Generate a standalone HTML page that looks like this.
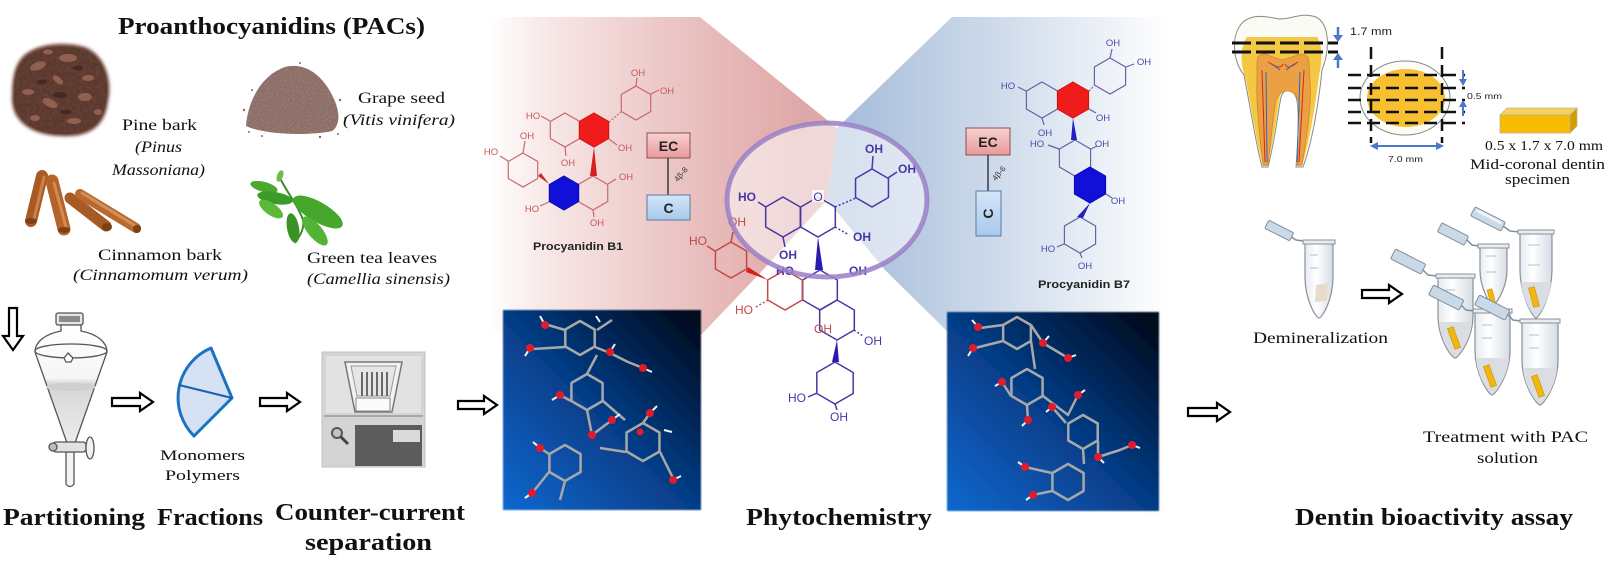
<!DOCTYPE html>
<html><head><meta charset="utf-8"><style>
html,body{margin:0;padding:0;background:#fff;}
svg{display:block;}
.s{font-family:"Liberation Serif",serif;fill:#111;}
.b{font-weight:bold;}
.i{font-style:italic;}
.a{font-family:"Liberation Sans",sans-serif;}
.m1{font-family:"Liberation Sans",sans-serif;font-size:9.5px;fill:#c45a5a;}
.m7{font-family:"Liberation Sans",sans-serif;font-size:9.5px;fill:#4a4aa6;}
.mc{font-family:"Liberation Sans",sans-serif;font-size:12px;fill:#4a35a8;}
.mr{font-family:"Liberation Sans",sans-serif;font-size:12px;fill:#c44848;}
</style></head><body>
<svg width="1612" height="575" viewBox="0 0 1612 575" xmlns="http://www.w3.org/2000/svg">
<defs>
 <polygon id="hx" points="0,-1 .866,-.5 .866,.5 0,1 -.866,.5 -.866,-.5" vector-effect="non-scaling-stroke"/>
 <linearGradient id="pinkG" gradientUnits="userSpaceOnUse" x1="488" y1="0" x2="800" y2="0">
  <stop offset="0" stop-color="#ffffff"/>
  <stop offset=".18" stop-color="#f8e8e8"/>
  <stop offset=".7" stop-color="#e8bcbc"/>
  <stop offset="1" stop-color="#e0a9a9"/>
 </linearGradient>
 <linearGradient id="blueG" gradientUnits="userSpaceOnUse" x1="850" y1="0" x2="1170" y2="0">
  <stop offset="0" stop-color="#a8bedb"/>
  <stop offset=".5" stop-color="#d2ddec"/>
  <stop offset="1" stop-color="#ffffff"/>
 </linearGradient>
 <linearGradient id="boxG" x1="0" y1="1" x2="1" y2="0">
  <stop offset="0" stop-color="#0a68d0"/>
  <stop offset=".5" stop-color="#063c86"/>
  <stop offset="1" stop-color="#010614"/>
 </linearGradient>
 <linearGradient id="ecG" x1="0" y1="0" x2="0" y2="1">
  <stop offset="0" stop-color="#f8d0d0"/><stop offset="1" stop-color="#e99a9a"/>
 </linearGradient>
 <linearGradient id="cG" x1="0" y1="0" x2="0" y2="1">
  <stop offset="0" stop-color="#d4e6f8"/><stop offset="1" stop-color="#a8c8ec"/>
 </linearGradient>
 <linearGradient id="tubeG" x1="0" y1="0" x2="1" y2="0">
  <stop offset="0" stop-color="#e6ebf0"/><stop offset=".4" stop-color="#ffffff"/><stop offset="1" stop-color="#d6dce3"/>
 </linearGradient>
 <linearGradient id="funG" x1="0" y1="0" x2="0" y2="1">
  <stop offset="0" stop-color="#ffffff"/><stop offset=".45" stop-color="#f6f6f6"/><stop offset=".5" stop-color="#d6d6d6"/><stop offset="1" stop-color="#ececec"/>
 </linearGradient>
 <filter id="nz" x="0" y="0" width="100%" height="100%">
  <feTurbulence type="fractalNoise" baseFrequency="0.3" numOctaves="2" seed="7" result="t"/>
  <feColorMatrix in="t" type="matrix" values="0 0 0 0 0.12  0 0 0 0 0.06  0 0 0 0 0.04  0 0 0 -2.4 1.45"/>
  <feComposite in2="SourceGraphic" operator="in"/>
 </filter>
 <filter id="nz2" x="0" y="0" width="100%" height="100%">
  <feTurbulence type="fractalNoise" baseFrequency="0.6" numOctaves="1" seed="3" result="t"/>
  <feColorMatrix in="t" type="matrix" values="0 0 0 0 0.3  0 0 0 0 0.22  0 0 0 0 0.2  0 0 0 -3 1.7"/>
  <feComposite in2="SourceGraphic" operator="in"/>
 </filter>
 <filter id="soft"><feGaussianBlur stdDeviation="0.8"/></filter>
 <filter id="fz"><feGaussianBlur stdDeviation="1.5"/></filter>
</defs>

<!-- ===== background zoom regions ===== -->
<polygon points="488,17 700,17 837,128 827,200 760,273 702,334 488,334" fill="url(#pinkG)"/>
<polygon points="837,128 952,17 1170,17 1170,334 950,334 885,270 827,200" fill="url(#blueG)"/>

<!-- ===== LEFT: sources ===== -->
<text class="s b" x="118" y="34" font-size="24" textLength="307" lengthAdjust="spacingAndGlyphs">Proanthocyanidins (PACs)</text>

<!-- pine bark -->
<path d="M20,60 C30,45 60,40 85,47 C105,55 113,80 108,102 C105,126 90,138 60,136 C30,135 10,120 12,95 C12,80 14,68 20,60 Z" fill="#6a4034" filter="url(#fz)"/>
<path d="M22,62 C32,48 60,43 84,50 C103,57 110,80 106,101 C103,124 89,135 60,134 C32,133 13,119 14,95 C14,81 16,70 22,62 Z" fill="#5e382e"/>
<path d="M22,62 C32,48 60,43 84,50 C103,57 110,80 106,101 C103,124 89,135 60,134 C32,133 13,119 14,95 C14,81 16,70 22,62 Z" fill="#5e382e" filter="url(#nz)"/>
<g fill="#9e6a58" opacity=".8">
 <ellipse cx="38" cy="66" rx="8" ry="4" transform="rotate(-20 38 66)"/><ellipse cx="68" cy="58" rx="9" ry="4"/><ellipse cx="88" cy="78" rx="6" ry="3"/>
 <ellipse cx="85" cy="97" rx="7" ry="4"/><ellipse cx="50" cy="103" rx="8" ry="4" transform="rotate(25 50 103)"/><ellipse cx="28" cy="92" rx="6" ry="3"/>
 <ellipse cx="74" cy="121" rx="7" ry="3"/><ellipse cx="58" cy="80" rx="6" ry="3" transform="rotate(40 58 80)"/><ellipse cx="35" cy="118" rx="5" ry="3"/>
 <ellipse cx="98" cy="112" rx="4" ry="3"/><ellipse cx="48" cy="52" rx="5" ry="2.5"/>
</g>
<g fill="#3a221c" opacity=".7"><ellipse cx="60" cy="95" rx="7" ry="3"/><ellipse cx="42" cy="82" rx="5" ry="2.5"/><ellipse cx="78" cy="68" rx="5" ry="2.5"/><ellipse cx="66" cy="112" rx="6" ry="2.5"/></g>
<text class="s" x="122" y="130" font-size="16" textLength="75" lengthAdjust="spacingAndGlyphs">Pine bark</text>
<text class="s i" x="135" y="152" font-size="16" textLength="47" lengthAdjust="spacingAndGlyphs">(Pinus</text>
<text class="s i" x="112" y="175" font-size="16" textLength="93" lengthAdjust="spacingAndGlyphs">Massoniana)</text>

<!-- grape seed -->
<path d="M246,126 C248,100 262,75 285,67 C305,62 322,75 332,95 C340,110 341,125 332,131 C310,136 265,135 246,126 Z" fill="#8d6d65"/>
<path d="M246,126 C248,100 262,75 285,67 C305,62 322,75 332,95 C340,110 341,125 332,131 C310,136 265,135 246,126 Z" fill="#8d6d65" filter="url(#nz2)"/>
<g fill="#8a6a62"><circle cx="244" cy="110" r="1.2"/><circle cx="252" cy="90" r="1"/><circle cx="340" cy="100" r="1.2"/><circle cx="345" cy="118" r="1"/><circle cx="262" cy="136" r="1"/><circle cx="320" cy="137" r="1.2"/><circle cx="338" cy="134" r="1"/><circle cx="249" cy="132" r="1"/><circle cx="300" cy="63" r="1"/></g>
<text class="s" x="358" y="103" font-size="16" textLength="87" lengthAdjust="spacingAndGlyphs">Grape seed</text>
<text class="s i" x="343" y="125" font-size="16" textLength="112" lengthAdjust="spacingAndGlyphs">(Vitis vinifera)</text>

<!-- cinnamon -->
<g stroke-linecap="round">
 <line x1="42" y1="176" x2="31" y2="221" stroke="#a85a24" stroke-width="12"/>
 <line x1="44" y1="177" x2="34" y2="219" stroke="#c9834a" stroke-width="3"/>
 <line x1="52" y1="181" x2="64" y2="229" stroke="#b4642a" stroke-width="13"/>
 <line x1="54" y1="183" x2="66" y2="227" stroke="#d08c52" stroke-width="3"/>
 <line x1="70" y1="198" x2="106" y2="226" stroke="#a85a24" stroke-width="11"/>
 <line x1="80" y1="194" x2="136" y2="228" stroke="#b8692e" stroke-width="10"/>
 <line x1="82" y1="193" x2="134" y2="225" stroke="#d29058" stroke-width="3"/>
</g>
<g fill="#7e3f16"><ellipse cx="31" cy="221" rx="6" ry="3"/><ellipse cx="64" cy="230" rx="6" ry="3"/><ellipse cx="107" cy="227" rx="5" ry="4"/><ellipse cx="137" cy="229" rx="4" ry="4"/></g>
<text class="s" x="98" y="260" font-size="16" textLength="124" lengthAdjust="spacingAndGlyphs">Cinnamon bark</text>
<text class="s i" x="73" y="280" font-size="16" textLength="175" lengthAdjust="spacingAndGlyphs">(Cinnamomum  verum)</text>

<!-- green tea -->
<path d="M278,174 C285,190 298,205 303,220 C305,230 298,238 295,243" stroke="#3b8a25" stroke-width="2" fill="none"/>
<g>
 <ellipse cx="264" cy="187" rx="14" ry="5" transform="rotate(15 264 187)" fill="#4aa82e"/>
 <ellipse cx="275" cy="198" rx="18" ry="6" transform="rotate(10 275 198)" fill="#3c9a26"/>
 <ellipse cx="271" cy="209" rx="14" ry="6" transform="rotate(35 271 209)" fill="#5cb93a"/>
 <ellipse cx="318" cy="212" rx="28" ry="10" transform="rotate(30 318 212)" fill="#45a82c"/>
 <ellipse cx="293" cy="228" rx="15" ry="6" transform="rotate(80 293 228)" fill="#3a9424"/>
 <ellipse cx="315" cy="231" rx="18" ry="7" transform="rotate(50 315 231)" fill="#52b334"/>
 <ellipse cx="280" cy="176" rx="3" ry="6" transform="rotate(20 280 176)" fill="#6cc04a"/>
</g>
<text class="s" x="307" y="263" font-size="16" textLength="130" lengthAdjust="spacingAndGlyphs">Green tea leaves</text>
<text class="s i" x="307" y="284" font-size="16" textLength="143" lengthAdjust="spacingAndGlyphs">(Camellia  sinensis)</text>

<!-- ===== LEFT bottom: process ===== -->
<path d="M9,308 L17,308 L17,336 L23,336 L13,350 L3,336 L9,336 Z" fill="#fff" stroke="#000" stroke-width="2.2" stroke-linejoin="miter"/>

<!-- separatory funnel -->
<g stroke="#555" stroke-width="1.3">
 <rect x="56" y="313" width="27" height="12" rx="2" fill="#e6e6e6"/>
 <rect x="59" y="316" width="21" height="6" fill="#8a8a8a" stroke="none"/>
 <path d="M61,325 L61,331 C45,334 35,342 35,352 L67,443 L75,443 L107,352 C107,342 97,334 81,331 L81,325 Z" fill="url(#funG)"/>
 <ellipse cx="71" cy="351" rx="36" ry="7" fill="none"/>
 <path d="M64,358 L68,353 L73,358 L71,362 L66,362 Z" fill="#fff"/>
 <ellipse cx="71" cy="387" rx="25" ry="4" fill="#cfcfcf" stroke="none"/>
 <path d="M66,452 L66,484 Q70,489 74,484 L74,452 Z" fill="#f4f4f4"/>
 <rect x="53" y="442" width="33" height="10" rx="3" fill="#e2e2e2"/>
 <circle cx="53" cy="447" r="4" fill="#bbb"/>
 <ellipse cx="90" cy="448" rx="4" ry="11" fill="#f2f2f2"/>
</g>

<path d="M112,398 L140,398 L140,393 L153,402 L140,411 L140,406 L112,406 Z" fill="#fff" stroke="#000" stroke-width="2.2"/>

<!-- fractions fan -->
<path d="M232,398 L211,348 A54,54 0 0,0 194,436 Z" fill="#d6e2f3" stroke="#1b72c2" stroke-width="3" stroke-linejoin="round"/>
<line x1="179" y1="385" x2="232" y2="398" stroke="#1b5fb0" stroke-width="2"/>
<text class="s" x="160" y="460" font-size="15" textLength="85" lengthAdjust="spacingAndGlyphs">Monomers</text>
<text class="s" x="165" y="480" font-size="15" textLength="75" lengthAdjust="spacingAndGlyphs">Polymers</text>

<path d="M260,398 L287,398 L287,393 L300,402 L287,411 L287,406 L260,406 Z" fill="#fff" stroke="#000" stroke-width="2.2"/>

<!-- CCS device -->
<rect x="322" y="352" width="103" height="115" fill="#d4d4d4" stroke="#c2c2c2"/>
<rect x="326" y="356" width="95" height="57" fill="#e2e2e2"/>
<polygon points="345,362 402,362 392,412 355,412" fill="#f2f2f2" stroke="#777" stroke-width="1.5"/>
<polygon points="351,366 396,366 390,396 357,396" fill="#e6e6e6" stroke="#999"/>
<g stroke="#6a6a6a" stroke-width="2"><line x1="362" y1="372" x2="362" y2="396"/><line x1="367" y1="372" x2="367" y2="396"/><line x1="372" y1="372" x2="372" y2="396"/><line x1="377" y1="372" x2="377" y2="396"/><line x1="382" y1="372" x2="382" y2="396"/><line x1="387" y1="372" x2="387" y2="396"/></g>
<rect x="356" y="398" width="34" height="13" fill="#fafafa" stroke="#888"/>
<line x1="324" y1="416" x2="423" y2="416" stroke="#a8a8a8" stroke-width="2"/>
<rect x="355" y="425" width="67" height="41" fill="#5c5c5c"/>
<rect x="393" y="430" width="27" height="12" fill="#dadada"/>
<circle cx="337" cy="433" r="5" fill="#c4c4c4" stroke="#555" stroke-width="2"/>
<line x1="341" y1="437" x2="348" y2="444" stroke="#444" stroke-width="3"/>

<path d="M458,401 L484,401 L484,396 L497,405 L484,414 L484,409 L458,409 Z" fill="#fff" stroke="#000" stroke-width="2.2"/>

<text class="s b" x="3" y="525" font-size="24" textLength="142" lengthAdjust="spacingAndGlyphs">Partitioning</text>
<text class="s b" x="157" y="525" font-size="24" textLength="106" lengthAdjust="spacingAndGlyphs">Fractions</text>
<text class="s b" x="275" y="520" font-size="24" textLength="190" lengthAdjust="spacingAndGlyphs">Counter-current</text>
<text class="s b" x="305" y="550" font-size="24" textLength="127" lengthAdjust="spacingAndGlyphs">separation</text>

<!-- ===== CENTER: B1 ===== -->
<g fill="none" stroke="#c86a6a" stroke-width="1.2">
 <use href="#hx" transform="translate(565,130) scale(17)"/>
 <use href="#hx" transform="translate(636,103) scale(17)"/>
 <use href="#hx" transform="translate(523,170) scale(17)"/>
 <use href="#hx" transform="translate(593,193) scale(17)"/>
 <line x1="609" y1="122" x2="621" y2="112" stroke-dasharray="2,1.5"/>
 <line x1="550" y1="121" x2="541" y2="116"/>
 <line x1="565" y1="147" x2="566" y2="156"/>
 <line x1="609" y1="139" x2="617" y2="145"/>
 <line x1="636" y1="86" x2="637" y2="78"/>
 <line x1="651" y1="94" x2="659" y2="90"/>
 <line x1="523" y1="153" x2="525" y2="141"/>
 <line x1="508" y1="161" x2="500" y2="156"/>
 <line x1="608" y1="184" x2="616" y2="179"/>
 <line x1="593" y1="210" x2="594" y2="217"/>
 <line x1="549" y1="202" x2="540" y2="206"/>
</g>
<use href="#hx" transform="translate(594,130) scale(17)" fill="#f01c1c" stroke="#d01010"/>
<use href="#hx" transform="translate(564,193) scale(17)" fill="#1010d8" stroke="#0a0ab0"/>
<polygon points="594,147 590,176 597,176" fill="#d82020"/>
<polygon points="549,184 538,176 541,173" fill="#c03030"/>
<text class="m1" x="638" y="76" text-anchor="middle">OH</text>
<text class="m1" x="667" y="94" text-anchor="middle">OH</text>
<text class="m1" x="533" y="119" text-anchor="middle">HO</text>
<text class="m1" x="568" y="166" text-anchor="middle">OH</text>
<text class="m1" x="625" y="151" text-anchor="middle">OH</text>
<text class="m1" x="527" y="139" text-anchor="middle">OH</text>
<text class="m1" x="491" y="155" text-anchor="middle">HO</text>
<text class="m1" x="532" y="212" text-anchor="middle">HO</text>
<text class="m1" x="626" y="180" text-anchor="middle">OH</text>
<text class="m1" x="597" y="226" text-anchor="middle">OH</text>
<text class="a b" x="533" y="250" font-size="11" fill="#222" textLength="90" lengthAdjust="spacingAndGlyphs">Procyanidin B1</text>

<rect x="647" y="133" width="43" height="25" fill="url(#ecG)" stroke="#8a5050" stroke-width="1"/>
<text class="a b" x="668.5" y="151" font-size="14" text-anchor="middle" fill="#222">EC</text>
<line x1="668" y1="158" x2="668" y2="195" stroke="#222" stroke-width="1.3"/>
<rect x="647" y="195" width="43" height="25" fill="url(#cG)" stroke="#5a7aa0" stroke-width="1"/>
<text class="a b" x="668.5" y="213" font-size="14" text-anchor="middle" fill="#222">C</text>
<text class="a" x="683" y="176" font-size="8" fill="#333" text-anchor="middle" transform="rotate(-50 683 176)">4β-8</text>

<!-- ===== CENTER: B7 ===== -->
<g fill="none" stroke="#6464a6" stroke-width="1.2">
 <use href="#hx" transform="translate(1042,100) scale(18)"/>
 <use href="#hx" transform="translate(1110,76) scale(18)"/>
 <use href="#hx" transform="translate(1075,158) scale(18)"/>
 <use href="#hx" transform="translate(1080,235) scale(18)"/>
 <line x1="1089" y1="91" x2="1094" y2="86" stroke-dasharray="2,1.5"/>
 <line x1="1026" y1="91" x2="1018" y2="87"/>
 <line x1="1042" y1="118" x2="1044" y2="125"/>
 <line x1="1089" y1="109" x2="1096" y2="113"/>
 <line x1="1110" y1="58" x2="1112" y2="49"/>
 <line x1="1126" y1="67" x2="1134" y2="64"/>
 <line x1="1059" y1="149" x2="1048" y2="145"/>
 <line x1="1091" y1="149" x2="1097" y2="146"/>
 <line x1="1106" y1="194" x2="1112" y2="198"/>
 <line x1="1064" y1="244" x2="1057" y2="247"/>
 <line x1="1080" y1="253" x2="1082" y2="258"/>
</g>
<use href="#hx" transform="translate(1073,100) scale(18)" fill="#f01c1c" stroke="#d01010"/>
<use href="#hx" transform="translate(1090,185) scale(18)" fill="#1010d8" stroke="#0a0ab0"/>
<polygon points="1073,118 1071,140 1077,140" fill="#2020c0"/>
<polygon points="1090,203 1077,217 1083,218" fill="#2020c0"/>
<text class="m7" x="1113" y="46" text-anchor="middle">OH</text>
<text class="m7" x="1144" y="65" text-anchor="middle">OH</text>
<text class="m7" x="1008" y="89" text-anchor="middle">HO</text>
<text class="m7" x="1045" y="136" text-anchor="middle">OH</text>
<text class="m7" x="1103" y="121" text-anchor="middle">OH</text>
<text class="m7" x="1037" y="147" text-anchor="middle">HO</text>
<text class="m7" x="1102" y="147" text-anchor="middle">OH</text>
<text class="m7" x="1118" y="204" text-anchor="middle">OH</text>
<text class="m7" x="1048" y="252" text-anchor="middle">HO</text>
<text class="m7" x="1085" y="269" text-anchor="middle">OH</text>
<text class="a b" x="1038" y="288" font-size="11" fill="#222" textLength="92" lengthAdjust="spacingAndGlyphs">Procyanidin B7</text>

<rect x="966" y="128" width="44" height="27" fill="url(#ecG)" stroke="#8a5050" stroke-width="1"/>
<text class="a b" x="988" y="147" font-size="14" text-anchor="middle" fill="#222">EC</text>
<line x1="988" y1="155" x2="988" y2="191" stroke="#222" stroke-width="1.3"/>
<rect x="976" y="191" width="25" height="45" fill="url(#cG)" stroke="#5a7aa0" stroke-width="1"/>
<text class="a b" x="988.5" y="218" font-size="14" text-anchor="middle" fill="#222" transform="rotate(-90 988.5 213.5)">C</text>
<text class="a" x="1001" y="175" font-size="8" fill="#333" text-anchor="middle" transform="rotate(-50 1001 175)">4β-6</text>

<!-- ===== CENTER molecule + magnifier ellipse ===== -->
<ellipse cx="827" cy="200" rx="100" ry="77" fill="#ffffff" fill-opacity=".55"/>
<g fill="none" stroke-width="1.5">
 <g stroke="#4a35a8">
  <use href="#hx" transform="translate(783,217) scale(20)"/>
  <use href="#hx" transform="translate(818,217) scale(20)"/>
  <use href="#hx" transform="translate(872,188) scale(19)"/>
  <use href="#hx" transform="translate(820,290) scale(20)"/>
  <use href="#hx" transform="translate(837,320) scale(20)"/>
  <use href="#hx" transform="translate(835,383) scale(21)"/>
  <line x1="835" y1="207" x2="856" y2="198" stroke-dasharray="2,2"/>
  <line x1="766" y1="207" x2="758" y2="202"/>
  <line x1="783" y1="237" x2="785" y2="247"/>
  <line x1="835" y1="227" x2="849" y2="235" stroke-dasharray="2,2"/>
  <line x1="872" y1="169" x2="873" y2="156"/>
  <line x1="888" y1="178" x2="897" y2="172"/>
  <line x1="854" y1="330" x2="863" y2="336" stroke-dasharray="2,2"/>
  <line x1="817" y1="393" x2="808" y2="397"/>
  <line x1="835" y1="404" x2="837" y2="410"/>
 </g>
 <g stroke="#c44848">
  <use href="#hx" transform="translate(785,290) scale(20)"/>
  <use href="#hx" transform="translate(731,260) scale(18)"/>
  <line x1="768" y1="300" x2="756" y2="307" stroke-dasharray="2,2"/>
  <line x1="731" y1="242" x2="733" y2="232"/>
  <line x1="715" y1="251" x2="707" y2="246"/>
 </g>
</g>
<polygon points="818,237 815,270 823,270" fill="#2a1ab0"/>
<polygon points="837,340 832,362 839,362" fill="#2a1ab0"/>
<polygon points="768,280 748,267 746,272" fill="#d02020"/>
<rect x="812" y="190" width="12" height="12" fill="#fff" fill-opacity=".85"/>
<text class="mc" x="818" y="201" text-anchor="middle">O</text>
<text class="mc b" x="747" y="201" text-anchor="middle">HO</text>
<text class="mc b" x="788" y="259" text-anchor="middle">OH</text>
<text class="mc b" x="862" y="241" text-anchor="middle">OH</text>
<text class="mc b" x="874" y="153" text-anchor="middle">OH</text>
<text class="mc b" x="907" y="173" text-anchor="middle">OH</text>
<text class="mc b" x="785" y="275" text-anchor="middle">HO</text>
<text class="mc b" x="858" y="275" text-anchor="middle">OH</text>
<text class="mr" x="698" y="245" text-anchor="middle">HO</text>
<text class="mr" x="737" y="226" text-anchor="middle">OH</text>
<text class="mr" x="744" y="314" text-anchor="middle">HO</text>
<text class="mr" x="823" y="333" text-anchor="middle">OH</text>
<text class="mc" x="873" y="345" text-anchor="middle">OH</text>
<text class="mc" x="797" y="402" text-anchor="middle">HO</text>
<text class="mc" x="839" y="421" text-anchor="middle">OH</text>
<ellipse cx="827" cy="200" rx="100" ry="77" fill="none" stroke="#9a80c6" stroke-width="5" stroke-opacity=".85"/>

<!-- ===== 3D molecule boxes ===== -->
<rect x="503" y="310" width="198" height="200" fill="url(#boxG)" filter="url(#soft)"/>
<g fill="none" stroke="#a8a8a8" stroke-width="2.5" stroke-linejoin="round">
 <use href="#hx" transform="translate(580,338) scale(17)"/>
 <use href="#hx" transform="translate(587,392) scale(18)"/>
 <use href="#hx" transform="translate(565,463) scale(18)"/>
 <use href="#hx" transform="translate(643,442) scale(19)"/>
 <polyline points="565,330 548,325"/>
 <polyline points="565,347 533,349"/>
 <polyline points="595,347 610,353 628,362 643,368"/>
 <polyline points="597,330 612,320"/>
 <polyline points="587,374 597,355"/>
 <polyline points="603,401 625,420"/>
 <polyline points="571,401 560,395"/>
 <polyline points="587,410 592,435 612,420"/>
 <polyline points="643,423 650,413"/>
 <polyline points="660,452 673,478"/>
 <polyline points="565,481 560,500"/>
 <polyline points="549,472 533,492"/>
 <polyline points="549,454 540,448"/>
 <polyline points="626,452 600,448"/>
</g>
<g stroke="#f2f2f2" stroke-width="2"><line x1="545" y1="325" x2="540" y2="316"/><line x1="530" y1="348" x2="525" y2="356"/><line x1="610" y1="352" x2="615" y2="344"/><line x1="643" y1="368" x2="652" y2="372"/><line x1="560" y1="395" x2="552" y2="400"/><line x1="650" y1="413" x2="657" y2="406"/><line x1="612" y1="420" x2="620" y2="414"/><line x1="540" y1="448" x2="533" y2="442"/><line x1="532" y1="493" x2="525" y2="498"/><line x1="673" y1="480" x2="681" y2="476"/><line x1="600" y1="322" x2="596" y2="316"/><line x1="664" y1="430" x2="672" y2="432"/></g>
<g fill="#e01c2c"><circle cx="545" cy="325" r="4"/><circle cx="530" cy="348" r="4"/><circle cx="610" cy="352" r="4"/><circle cx="643" cy="368" r="4"/><circle cx="560" cy="395" r="4"/><circle cx="650" cy="413" r="4"/><circle cx="612" cy="420" r="4"/><circle cx="592" cy="435" r="4"/><circle cx="640" cy="432" r="3.5"/><circle cx="540" cy="448" r="4"/><circle cx="532" cy="493" r="4"/><circle cx="673" cy="480" r="4"/></g>

<rect x="947" y="312" width="212" height="199" fill="url(#boxG)" filter="url(#soft)"/>
<g fill="none" stroke="#a8a8a8" stroke-width="2.5" stroke-linejoin="round">
 <use href="#hx" transform="translate(1017,333) scale(16)"/>
 <use href="#hx" transform="translate(1027,387) scale(18)"/>
 <use href="#hx" transform="translate(1083,432) scale(17)"/>
 <use href="#hx" transform="translate(1068,482) scale(18)"/>
 <polyline points="1003,325 980,328"/>
 <polyline points="1003,341 975,348"/>
 <polyline points="1031,325 1043,343 1068,358"/>
 <polyline points="1031,341 1035,369"/>
 <polyline points="1043,396 1068,415 1078,395"/>
 <polyline points="1011,396 1002,382"/>
 <polyline points="1027,405 1028,420"/>
 <polyline points="1098,441 1098,457 1120,450 1132,445"/>
 <polyline points="1083,449 1084,464"/>
 <polyline points="1052,473 1025,467"/>
 <polyline points="1052,491 1033,495"/>
 <polyline points="1066,423 1052,407"/>
</g>
<g stroke="#f2f2f2" stroke-width="2"><line x1="978" y1="327" x2="972" y2="320"/><line x1="973" y1="348" x2="968" y2="356"/><line x1="1043" y1="343" x2="1049" y2="336"/><line x1="1068" y1="358" x2="1076" y2="355"/><line x1="1002" y1="382" x2="995" y2="386"/><line x1="1078" y1="395" x2="1085" y2="390"/><line x1="1028" y1="420" x2="1022" y2="426"/><line x1="1098" y1="457" x2="1104" y2="463"/><line x1="1132" y1="445" x2="1140" y2="448"/><line x1="1025" y1="467" x2="1018" y2="462"/><line x1="1033" y1="495" x2="1026" y2="500"/><line x1="1052" y1="407" x2="1046" y2="412"/></g>
<g fill="#e01c2c"><circle cx="978" cy="327" r="4"/><circle cx="973" cy="348" r="4"/><circle cx="1043" cy="343" r="4"/><circle cx="1068" cy="358" r="4"/><circle cx="1002" cy="382" r="4"/><circle cx="1078" cy="395" r="4"/><circle cx="1052" cy="407" r="4"/><circle cx="1028" cy="420" r="4"/><circle cx="1098" cy="457" r="4"/><circle cx="1132" cy="445" r="4"/><circle cx="1025" cy="467" r="4"/><circle cx="1033" cy="495" r="4"/></g>

<text class="s b" x="746" y="525" font-size="24" textLength="186" lengthAdjust="spacingAndGlyphs">Phytochemistry</text>

<path d="M1188,408 L1217,408 L1217,403 L1230,412 L1217,421 L1217,416 L1188,416 Z" fill="#fff" stroke="#000" stroke-width="2.2"/>

<!-- ===== RIGHT: tooth ===== -->
<path d="M1244,75 C1233,62 1230,35 1243,22 C1255,12 1270,18 1280,19 C1292,19 1302,12 1316,17 C1330,24 1330,50 1322,70 C1319,100 1313,140 1303,167 L1296,167 C1298,140 1300,110 1296,97 C1292,88 1284,88 1281,97 C1278,112 1275,140 1268,167 L1262,167 C1255,140 1250,105 1244,75 Z" fill="#fbfbf5" stroke="#8a8a80" stroke-width="1"/>
<path d="M1246,80 C1240,65 1240,46 1247,37 L1317,37 C1323,46 1322,62 1319,76 C1316,100 1310,140 1302,166 L1297,166 C1299,140 1301,110 1297,96 C1292,86 1283,86 1280,96 C1277,112 1274,140 1267,166 L1263,166 C1256,140 1251,105 1246,80 Z" fill="#f5c843"/>
<path d="M1257,62 C1257,54 1264,52 1270,56 L1282,60 L1295,56 C1302,52 1309,55 1309,62 L1310,82 C1312,100 1308,130 1302,165 L1297,165 C1300,135 1301,110 1298,100 C1294,88 1280,88 1276,100 C1273,112 1272,135 1268,165 L1263,165 C1259,130 1256,100 1257,82 Z" fill="#eba043" stroke="#d0882a" stroke-width=".8"/>
<g fill="none" stroke-width="1"><path d="M1262,70 L1265,162 M1268,62 C1275,66 1280,70 1283,64 M1304,70 L1299,162 M1298,62 C1292,66 1288,70 1285,64" stroke="#d02a1a"/><path d="M1266,72 L1267,162 M1300,72 L1297,162 M1272,64 L1280,70 M1294,64 L1286,70" stroke="#3562c4"/></g>
<g stroke="#111" stroke-width="3" stroke-dasharray="19,5"><line x1="1232" y1="43" x2="1338" y2="43"/><line x1="1232" y1="52" x2="1338" y2="52"/></g>
<g stroke="#4a78c8" stroke-width="2.5" fill="#4a78c8"><line x1="1338" y1="27" x2="1338" y2="37"/><polygon points="1333,35 1343,35 1338,42" stroke="none"/><line x1="1338" y1="68" x2="1338" y2="59"/><polygon points="1333,60 1343,60 1338,53" stroke="none"/></g>
<text class="a" x="1350" y="35" font-size="11" fill="#222" textLength="42" lengthAdjust="spacingAndGlyphs">1.7 mm</text>

<!-- cross section -->
<ellipse cx="1405" cy="98" rx="45" ry="37" fill="#fdfdf8" stroke="#888" stroke-width="1"/>
<ellipse cx="1406" cy="98" rx="39" ry="29" fill="#f6c030"/>
<g stroke="#111" stroke-width="2.5"><line x1="1371" y1="47" x2="1371" y2="143" stroke-dasharray="12,6"/><line x1="1442" y1="47" x2="1442" y2="143" stroke-dasharray="12,6"/></g>
<g stroke="#111" stroke-width="2.5" stroke-dasharray="13,6"><line x1="1348" y1="75" x2="1465" y2="75"/><line x1="1348" y1="88" x2="1465" y2="88"/><line x1="1348" y1="100" x2="1465" y2="100"/><line x1="1348" y1="112" x2="1465" y2="112"/><line x1="1348" y1="123" x2="1465" y2="123"/></g>
<g stroke="#4a78c8" stroke-width="2" fill="#4a78c8"><line x1="1463" y1="70" x2="1463" y2="80"/><polygon points="1459,79 1467,79 1463,86" stroke="none"/><line x1="1463" y1="116" x2="1463" y2="106"/><polygon points="1459,107 1467,107 1463,100" stroke="none"/><line x1="1376" y1="146" x2="1438" y2="146"/><polygon points="1370,146 1378,142 1378,150" stroke="none"/><polygon points="1444,146 1436,142 1436,150" stroke="none"/></g>
<text class="a" x="1467" y="99" font-size="8" fill="#222" textLength="35" lengthAdjust="spacingAndGlyphs">0.5 mm</text>
<text class="a" x="1388" y="162" font-size="8" fill="#222" textLength="35" lengthAdjust="spacingAndGlyphs">7.0 mm</text>

<!-- block -->
<polygon points="1500,115 1507,108 1577,108 1570,115" fill="#f8d060" stroke="#b8b890" stroke-width=".8"/>
<rect x="1500" y="115" width="70" height="18" fill="#f8bb00" stroke="#b8b890" stroke-width=".8"/>
<polygon points="1570,115 1577,108 1577,126 1570,133" fill="#d49a00" stroke="#b8b890" stroke-width=".8"/>
<text class="s" x="1485" y="150" font-size="14" textLength="118" lengthAdjust="spacingAndGlyphs">0.5 x 1.7 x  7.0 mm</text>
<text class="s" x="1470" y="169" font-size="15" textLength="135" lengthAdjust="spacingAndGlyphs">Mid-coronal dentin</text>
<text class="s" x="1505" y="184" font-size="15" textLength="65" lengthAdjust="spacingAndGlyphs">specimen</text>

<!-- ===== tubes ===== -->
<!-- single -->
<polyline points="1304,241 1296,240 1290,236" fill="none" stroke="#7f8f9f" stroke-width="1.5"/>
<rect x="1265" y="226" width="28" height="9" rx="1.5" transform="rotate(27 1279 231)" fill="#c9d9e6" stroke="#7f8f9f"/>
<path d="M1305,243 L1305,277 C1305,300 1316,318 1319,318 C1322,318 1333,300 1333,277 L1333,243 Z" fill="url(#tubeG)" stroke="#8a9099" stroke-width="1.2"/>
<rect x="1303" y="240" width="32" height="4" fill="#e8ecef" stroke="#8a9099"/>
<g stroke="#b8bec6"><line x1="1310" y1="255" x2="1318" y2="255"/><line x1="1310" y1="268" x2="1318" y2="268"/></g>
<polygon points="1316,285 1328,283 1327,301 1315,302" fill="#e6dccb"/>
<text class="s" x="1253" y="343" font-size="16" textLength="135" lengthAdjust="spacingAndGlyphs">Demineralization</text>
<path d="M1362,290 L1389,290 L1389,285 L1402,294 L1389,303 L1389,298 L1362,298 Z" fill="#fff" stroke="#000" stroke-width="2.2"/>

<!-- A (back right) -->
<polyline points="1519,232 1510,231 1503,226" fill="none" stroke="#7f8f9f" stroke-width="1.5"/>
<rect x="1471" y="214" width="34" height="10" rx="1.5" transform="rotate(27 1488 219)" fill="#c9d9e6" stroke="#7f8f9f"/>
<rect x="1474" y="215" width="28" height="3" transform="rotate(27 1488 219)" fill="#eef3f8"/>
<path d="M1520,233 L1520,270 C1520,295 1533,318 1536,318 C1539,318 1552,295 1552,270 L1552,233 Z" fill="url(#tubeG)" stroke="#8a9099" stroke-width="1.2"/>
<rect x="1518" y="230" width="36" height="4" fill="#e8ecef" stroke="#8a9099"/>
<path d="M1521,282 L1551,282 C1550,298 1539,317 1536,317 C1533,317 1522,298 1521,282 Z" fill="#dadee3"/>
<g stroke="#b8bec6"><line x1="1528" y1="245" x2="1540" y2="245"/><line x1="1528" y1="265" x2="1540" y2="265"/></g>
<rect x="1531" y="287" width="6" height="20" transform="rotate(-15 1534 297)" fill="#f2b70f" stroke="#c89000" stroke-width=".6"/>
<!-- B -->
<polyline points="1479,246 1472,245 1467,240" fill="none" stroke="#7f8f9f" stroke-width="1.5"/>
<rect x="1438" y="229" width="30" height="10" rx="1.5" transform="rotate(27 1453 234)" fill="#c9d9e6" stroke="#7f8f9f"/>
<path d="M1480,247 L1480,270 C1480,288 1490,305 1493,305 C1496,305 1507,288 1507,270 L1507,247 Z" fill="url(#tubeG)" stroke="#8a9099" stroke-width="1.2"/>
<rect x="1478" y="244" width="31" height="4" fill="#e8ecef" stroke="#8a9099"/>
<g stroke="#b8bec6"><line x1="1486" y1="256" x2="1496" y2="256"/><line x1="1486" y1="272" x2="1496" y2="272"/></g>
<rect x="1489" y="289" width="5" height="15" transform="rotate(-15 1492 297)" fill="#f2b70f" stroke="#c89000" stroke-width=".6"/>
<!-- C -->
<polyline points="1437,276 1428,275 1422,269" fill="none" stroke="#7f8f9f" stroke-width="1.5"/>
<rect x="1391" y="256" width="34" height="11" rx="1.5" transform="rotate(27 1408 262)" fill="#c9d9e6" stroke="#7f8f9f"/>
<path d="M1438,277 L1438,315 C1438,340 1452,358 1455,358 C1458,358 1473,340 1473,315 L1473,277 Z" fill="url(#tubeG)" stroke="#8a9099" stroke-width="1.2"/>
<rect x="1436" y="274" width="39" height="4" fill="#e8ecef" stroke="#8a9099"/>
<path d="M1439,322 L1472,322 C1471,340 1458,357 1455,357 C1452,357 1440,340 1439,322 Z" fill="#dadee3"/>
<g stroke="#b8bec6"><line x1="1445" y1="290" x2="1455" y2="290"/><line x1="1445" y1="303" x2="1455" y2="303"/></g>
<rect x="1451" y="327" width="6" height="22" transform="rotate(-20 1454 338)" fill="#f2b70f" stroke="#c89000" stroke-width=".6"/>
<!-- D -->
<polyline points="1474,311 1466,310 1460,304" fill="none" stroke="#7f8f9f" stroke-width="1.5"/>
<rect x="1429" y="292" width="34" height="11" rx="1.5" transform="rotate(27 1446 298)" fill="#c9d9e6" stroke="#7f8f9f"/>
<path d="M1475,312 L1475,350 C1475,375 1489,395 1492,395 C1495,395 1510,375 1510,350 L1510,312 Z" fill="url(#tubeG)" stroke="#8a9099" stroke-width="1.2"/>
<rect x="1473" y="309" width="39" height="4" fill="#e8ecef" stroke="#8a9099"/>
<path d="M1476,358 L1509,358 C1508,376 1495,394 1492,394 C1489,394 1477,376 1476,358 Z" fill="#dadee3"/>
<g stroke="#b8bec6"><line x1="1482" y1="325" x2="1492" y2="325"/><line x1="1482" y1="338" x2="1492" y2="338"/></g>
<rect x="1487" y="365" width="6" height="22" transform="rotate(-20 1490 376)" fill="#f2b70f" stroke="#c89000" stroke-width=".6"/>
<!-- E -->
<polyline points="1521,321 1513,320 1507,314" fill="none" stroke="#7f8f9f" stroke-width="1.5"/>
<rect x="1475" y="302" width="34" height="11" rx="1.5" transform="rotate(27 1492 308)" fill="#c9d9e6" stroke="#7f8f9f"/>
<path d="M1522,322 L1522,360 C1522,385 1537,405 1540,405 C1543,405 1558,385 1558,360 L1558,322 Z" fill="url(#tubeG)" stroke="#8a9099" stroke-width="1.2"/>
<rect x="1520" y="319" width="40" height="4" fill="#e8ecef" stroke="#8a9099"/>
<path d="M1523,368 L1557,368 C1556,386 1543,404 1540,404 C1537,404 1524,386 1523,368 Z" fill="#dadee3"/>
<g stroke="#b8bec6"><line x1="1529" y1="335" x2="1539" y2="335"/><line x1="1529" y1="348" x2="1539" y2="348"/></g>
<rect x="1535" y="375" width="6" height="22" transform="rotate(-20 1538 386)" fill="#f2b70f" stroke="#c89000" stroke-width=".6"/>

<text class="s" x="1423" y="442" font-size="16" textLength="165" lengthAdjust="spacingAndGlyphs">Treatment with PAC</text>
<text class="s" x="1477" y="463" font-size="16" textLength="61" lengthAdjust="spacingAndGlyphs">solution</text>

<text class="s b" x="1295" y="525" font-size="24" textLength="278" lengthAdjust="spacingAndGlyphs">Dentin bioactivity assay</text>
</svg>
</body></html>
